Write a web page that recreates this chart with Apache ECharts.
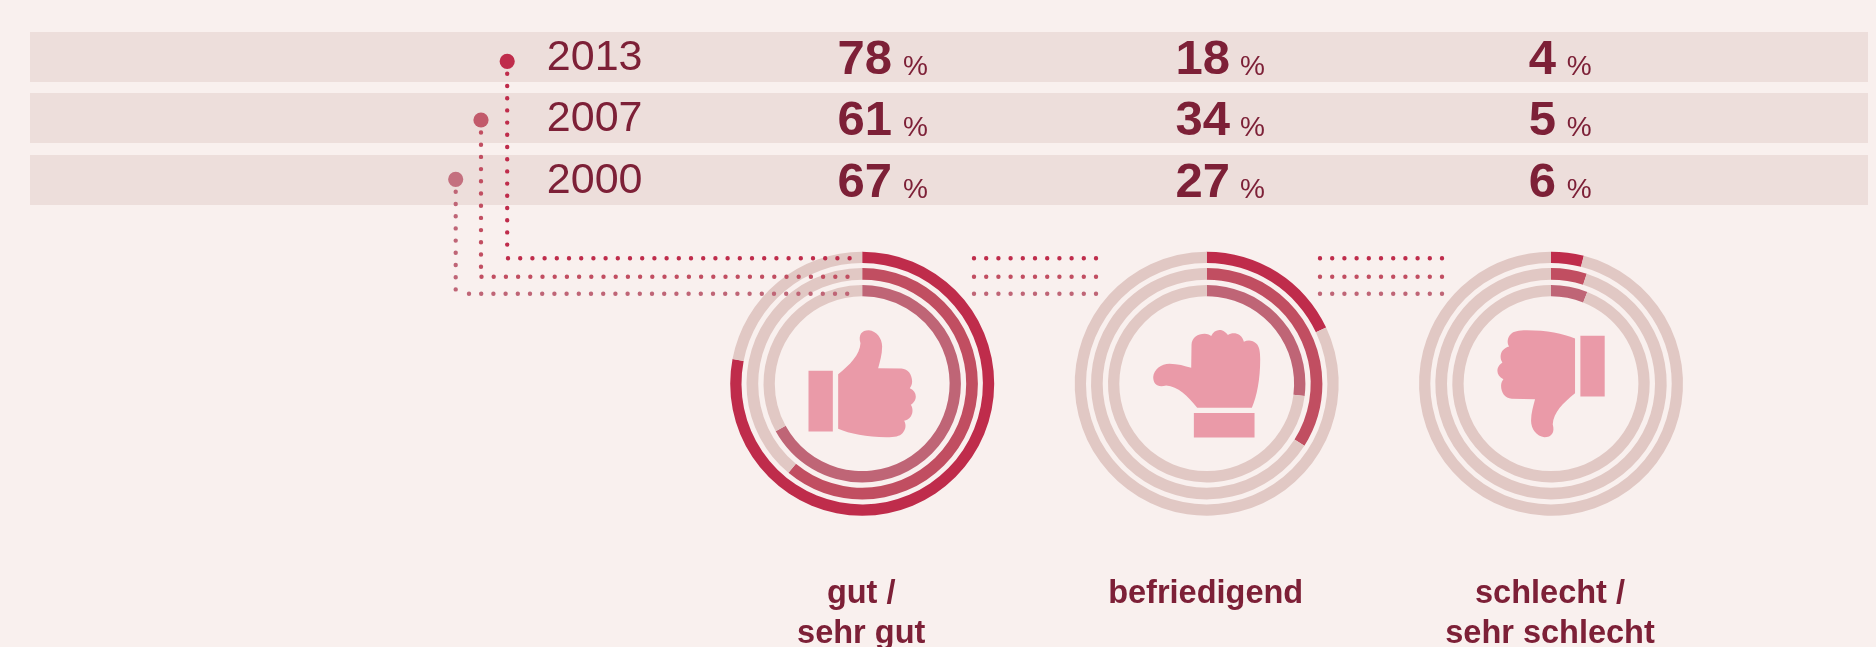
<!DOCTYPE html>
<html>
<head>
<meta charset="utf-8">
<style>
  html, body { margin: 0; padding: 0; background: #f9f0ee; }
  #chart { width: 1876px; height: 647px; }
</style>
<script src="https://cdn.jsdelivr.net/npm/echarts@6/dist/echarts.min.js"></script>
</head>
<body>
<div id="chart"></div>
<script>
// Daten
const years = ['2013', '2007', '2000'];
const gut = [78, 61, 67];
const befriedigend = [18, 34, 27];
const schlecht = [4, 5, 6];
const labels = ['gut /\nsehr gut', 'befriedigend', 'schlecht /\nsehr schlecht'];

const columns = [gut, befriedigend, schlecht];
const ringColors = ['#bf2c4b', '#c14e61', '#bf6576'];
const dotColors = ['#bf2c4b', '#c25a6b', '#c4707f'];
const restColor = '#e1c8c4';
const textColor = '#7d2037';
const font = '"Liberation Sans", Arial, sans-serif';

// Layout
const centerX = [862.2, 1206.7, 1551];
const centerY = 383.7;
const ringRadius = [[120.7, 132], [104, 115.7], [87.4, 98.7]];
const bandY = [[32, 82], [93, 143], [155, 205]];
const rowY = [60, 121.5, 183];
const dotX = [507.2, 481, 455.7];
const dotY = [61.3, 120, 179.3];
const lineY = [258.3, 276.7, 293.7];
const lineEndY = [245, 267.7, 291.7];
const lineStartX = [508, 481.5, 469];
const numberRight = [892, 1230, 1556];
const percentLeft = [903, 1240, 1566.7];
const angle = [0, Math.PI / 2, Math.PI];

// Daumen, nach oben zeigend
const thumb = 'M296,408 L369,408 L369,590 L296,590 Z ' +
  'M385,418 C420,390 450,360 452,325 C445,300 455,286 477,286 C500,288 517,310 517,335 ' +
  'C517,360 510,380 505,400 L575,401 C595,402 607,420 607,440 C607,450 603,456 600,460 ' +
  'C612,465 618,475 618,485 C618,497 610,505 603,510 C610,520 610,535 603,545 ' +
  'C597,553 590,556 583,558 C590,570 588,585 578,595 C570,604 555,607 530,607 ' +
  'C470,607 420,597 385,582 Z';

const series = [];
columns.forEach((values, c) => {
  values.forEach((v, r) => {
    series.push({
      type: 'pie',
      silent: true,
      animation: false,
      center: [centerX[c], centerY],
      radius: ringRadius[r],
      startAngle: 90,
      label: { show: false },
      labelLine: { show: false },
      itemStyle: { borderWidth: 0 },
      data: [
        { value: v, itemStyle: { color: ringColors[r] } },
        { value: 100 - v, itemStyle: { color: restColor } }
      ]
    });
  });
});

// Icons in der Mitte der Ringe
series.push({
  type: 'custom',
  coordinateSystem: 'none',
  silent: true,
  animation: false,
  data: [0, 1, 2],
  renderItem: function (params) {
    const i = params.dataIndex;
    return {
      type: 'path',
      x: centerX[i],
      y: centerY,
      rotation: angle[i],
      shape: { pathData: thumb, layout: 'cover', x: -53.7, y: -53.5, width: 107.3, height: 107 },
      style: { fill: '#ea9aa8' }
    };
  }
});

function dotted(points, color) {
  return {
    type: 'polyline',
    silent: true,
    z: 10,
    shape: { points: points },
    style: { fill: null, stroke: color, lineWidth: 4.4, lineCap: 'round', lineDash: [0.01, 12.19] }
  };
}

function text(x, y, str, size, weight, align) {
  return {
    type: 'text',
    silent: true,
    x: x,
    y: y,
    style: {
      text: str,
      fill: textColor,
      font: weight + ' ' + size + 'px ' + font,
      textAlign: align,
      textVerticalAlign: 'middle',
      lineHeight: 40
    }
  };
}

const bands = bandY.map(b => ({
  type: 'rect',
  silent: true,
  z: -1,
  shape: { x: 30, y: b[0], width: 1838, height: b[1] - b[0] },
  style: { fill: '#eddedb' }
}));

const elements = bands.slice();
years.forEach((year, r) => {
  elements.push(text(546.8, rowY[r] - 2, year, 43, 'normal', 'left'));
  elements.push({
    type: 'circle',
    silent: true,
    shape: { cx: dotX[r], cy: dotY[r], r: 7.6 },
    style: { fill: dotColors[r] }
  });
  elements.push(dotted([[dotX[r], dotY[r] + 12.5], [dotX[r], lineEndY[r]]], ringColors[r]));
  elements.push(dotted([[lineStartX[r], lineY[r]], [856, lineY[r]]], ringColors[r]));
  elements.push(dotted([[974, lineY[r]], [1097, lineY[r]]], ringColors[r]));
  elements.push(dotted([[1320, lineY[r]], [1443, lineY[r]]], ringColors[r]));
  columns.forEach((values, c) => {
    elements.push(text(numberRight[c], rowY[r], String(values[r]), 49, 'bold', 'right'));
    elements.push(text(percentLeft[c], rowY[r] + 7, '%', 28, 'normal', 'left'));
  });
});

centerX.forEach((x, c) => {
  elements.push(text(x - 1, labels[c].indexOf('\n') > 0 ? 614.5 : 594.5, labels[c], 32.5, 'bold', 'center'));
});

const chart = echarts.init(document.getElementById('chart'), null, { renderer: 'canvas' });
chart.setOption({
  backgroundColor: '#f9f0ee',
  animation: false,
  series: series,
  graphic: { elements: elements }
});
</script>
</body>
</html>
